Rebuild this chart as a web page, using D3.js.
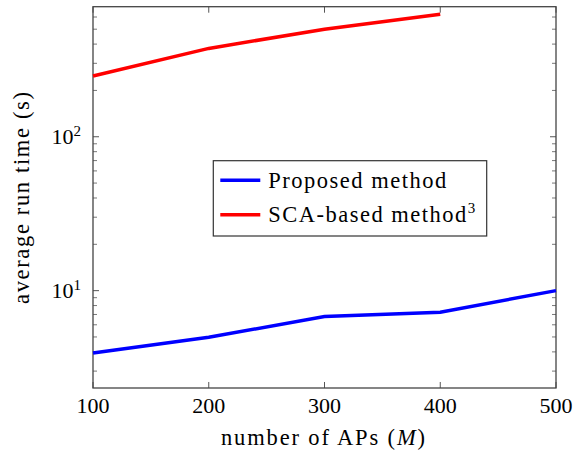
<!DOCTYPE html>
<html>
<head>
<meta charset="utf-8">
<script src="https://cdn.jsdelivr.net/npm/d3@7"></script>
<style>
  body { margin: 0; background: #fff; }
  text { font-family: "Liberation Serif", "DejaVu Serif", serif; fill: #000; }
</style>
</head>
<body>
<div id="chart"></div>
<script>
// data
var apCounts = [100, 200, 300, 400, 500];
var proposedTime = [3.93, 4.98, 6.78, 7.24, 10.0];
var scaApCounts = [100, 200, 300, 400];
var scaTime = [248, 375, 500, 625];
var xTicks = [100, 200, 300, 400, 500];
var yMajorTicks = [10, 100];
var yMinorTicks = [3, 4, 5, 6, 7, 8, 9, 20, 30, 40, 50, 60, 70, 80, 90, 200, 300, 400, 500, 600];

const dim = { width: 578, height: 451, mLeft: 93, mTop: 6.7, pw: 463, ph: 381.3 };

var svg = d3
  .select("#chart")
  .append("svg")
  .attr("width", dim.width)
  .attr("height", dim.height);

var g = svg.append("g").attr("transform", "translate(" + dim.mLeft + "," + dim.mTop + ")");

var x = d3.scaleLinear().domain([100, 500]).range([0, dim.pw]);
var y = d3.scaleLog().domain([2.33, 700]).range([dim.ph, 0]);

var tickColor = "#555";

// x ticks, bottom and top (inward)
xTicks.forEach(function (t) {
  g.append("line").attr("x1", x(t)).attr("x2", x(t)).attr("y1", dim.ph).attr("y2", dim.ph - 6)
    .attr("stroke", tickColor).attr("stroke-width", 1);
  g.append("line").attr("x1", x(t)).attr("x2", x(t)).attr("y1", 0).attr("y2", 6)
    .attr("stroke", tickColor).attr("stroke-width", 1);
  g.append("text").attr("x", x(t)).attr("y", dim.ph + 25.5).attr("text-anchor", "middle")
    .style("font-size", "22px").text(t);
});

// y ticks, left and right
yMajorTicks.forEach(function (t) {
  g.append("line").attr("x1", 0).attr("x2", 6).attr("y1", y(t)).attr("y2", y(t))
    .attr("stroke", tickColor).attr("stroke-width", 1);
  g.append("line").attr("x1", dim.pw).attr("x2", dim.pw - 6).attr("y1", y(t)).attr("y2", y(t))
    .attr("stroke", tickColor).attr("stroke-width", 1);
  var lab = g.append("text").attr("x", -12).attr("y", y(t) + 7.5).attr("text-anchor", "end")
    .style("font-size", "22px");
  lab.append("tspan").text("10");
  lab.append("tspan").attr("dy", -8.5).style("font-size", "15px").text(Math.round(Math.log10(t)));
});
yMinorTicks.forEach(function (t) {
  g.append("line").attr("x1", 0).attr("x2", 4).attr("y1", y(t)).attr("y2", y(t))
    .attr("stroke", tickColor).attr("stroke-width", 0.8);
  g.append("line").attr("x1", dim.pw).attr("x2", dim.pw - 4).attr("y1", y(t)).attr("y2", y(t))
    .attr("stroke", tickColor).attr("stroke-width", 0.8);
});

// frame
g.append("rect").attr("x", 0).attr("y", 0).attr("width", dim.pw).attr("height", dim.ph)
  .attr("fill", "none").attr("stroke", "#444").attr("stroke-width", 1.3);

var line = d3.line()
  .x(function (d) { return x(d[0]); })
  .y(function (d) { return y(d[1]); });

g.append("path")
  .datum(d3.zip(apCounts, proposedTime))
  .attr("d", line).attr("fill", "none").attr("stroke", "#0000ff").attr("stroke-width", 3.5);
g.append("path")
  .datum(d3.zip(scaApCounts, scaTime))
  .attr("d", line).attr("fill", "none").attr("stroke", "#ff0000").attr("stroke-width", 3.5);

// axis titles
svg.append("text").attr("text-anchor", "middle")
  .attr("x", 323).attr("y", 445)
  .attr("textLength", 204).attr("lengthAdjust", "spacing")
  .style("font-size", "22.5px")
  .html("number of APs (<tspan font-style='italic'>M</tspan>)");
svg.append("text").attr("text-anchor", "middle")
  .attr("transform", "translate(29,198) rotate(-90)")
  .attr("textLength", 212).attr("lengthAdjust", "spacing")
  .style("font-size", "22.5px")
  .text("average run time (s)");

// legend
var leg = svg.append("g").attr("transform", "translate(213.3,160.7)");
leg.append("rect").attr("width", 273.4).attr("height", 75.3)
  .attr("fill", "#fff").attr("stroke", "#333").attr("stroke-width", 1.2);
var legItems = [
  { name: "Proposed method", color: "#0000ff", sup: "", w: 178 },
  { name: "SCA-based method", color: "#ff0000", sup: "3", w: 198 }
];
legItems.forEach(function (d, i) {
  var ly = 19.5 + i * 34.5;
  leg.append("line").attr("x1", 7).attr("x2", 47).attr("y1", ly).attr("y2", ly)
    .attr("stroke", d.color).attr("stroke-width", 3.5);
  var t = leg.append("text").attr("x", 55).attr("y", ly + 7.5).style("font-size", "22.5px");
  t.append("tspan").attr("textLength", d.w).attr("lengthAdjust", "spacing").text(d.name);
  if (d.sup) t.append("tspan").attr("dx", 0).attr("dy", -9).style("font-size", "15px").text(d.sup);
});
</script>
</body>
</html>
